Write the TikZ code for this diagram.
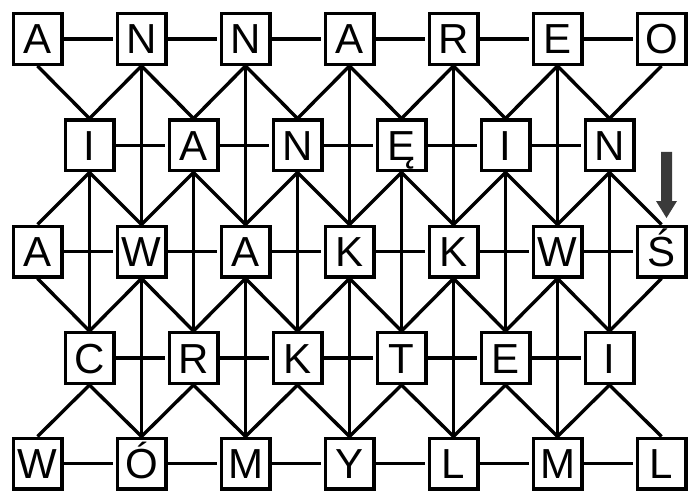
\documentclass[tikz,border=0pt]{standalone}
\usepackage{fontspec}
\setmainfont{Liberation Sans}
\definecolor{arrowgray}{RGB}{58,58,58}
\begin{document}
\begin{tikzpicture}[x=1pt,y=-1pt,
  letterbox/.style={draw,line width=3.4pt,fill=white,minimum width=48.6pt,minimum height=50.6pt,
    inner sep=0pt,text height=30pt,text depth=0pt,font=\fontsize{42}{42}\selectfont},
  link/.style={line width=3.4pt},
  hlink/.style={link,shorten >=3pt}]
\useasboundingbox (0,0) rectangle (691,492);
% rows
\foreach \t [count=\i from 0] in {A,N,N,A,R,E,O}
  \node[letterbox] (a\i) at (37.5+104*\i,39) {\t};
\foreach \t [count=\i from 0] in {I,A,N,Ę,I,N}
  \node[letterbox] (b\i) at (89.5+104*\i,145.5) {\t};
\foreach \t [count=\i from 0] in {A,W,A,K,K,W,Ś}
  \node[letterbox] (c\i) at (37.5+104*\i,251.5) {\t};
\foreach \t [count=\i from 0] in {C,R,K,T,E,I}
  \node[letterbox] (d\i) at (89.5+104*\i,358) {\t};
\foreach \t [count=\i from 0] in {W,Ó,M,Y,L,M,L}
  \node[letterbox] (e\i) at (37.5+104*\i,463.5) {\t};
% horizontal links
\foreach \r in {a,c,e}
  \foreach \i in {0,...,5} {
    \pgfmathtruncatemacro\k{\i+1}
    \draw[hlink] (\r\i.east) -- (\r\k.west);
  }
\foreach \r in {b,d}
  \foreach \i in {0,...,4} {
    \pgfmathtruncatemacro\k{\i+1}
    \draw[hlink] (\r\i.east) -- (\r\k.west);
  }
% diagonal links
\foreach \j in {0,...,5} {
  \pgfmathtruncatemacro\k{\j+1}
  \draw[link] (a\j.south) -- (b\j.north);
  \draw[link] (a\k.south) -- (b\j.north);
  \draw[link] (b\j.south) -- (c\j.north);
  \draw[link] (b\j.south) -- (c\k.north);
  \draw[link] (c\j.south) -- (d\j.north);
  \draw[link] (c\k.south) -- (d\j.north);
  \draw[link] (d\j.south) -- (e\j.north);
  \draw[link] (d\j.south) -- (e\k.north);
}
% vertical links
\foreach \i in {1,...,5} {
  \draw[link] (a\i.south) -- (c\i.north);
  \draw[link] (c\i.south) -- (e\i.north);
}
\foreach \j in {0,...,5}
  \draw[link] (b\j.south) -- (d\j.north);
% arrow
\fill[arrowgray] (661,152) -- (672,152) -- (672,201) -- (677,201) -- (666.5,218)
  -- (656,201) -- (661,201) -- cycle;
\end{tikzpicture}
\end{document}
